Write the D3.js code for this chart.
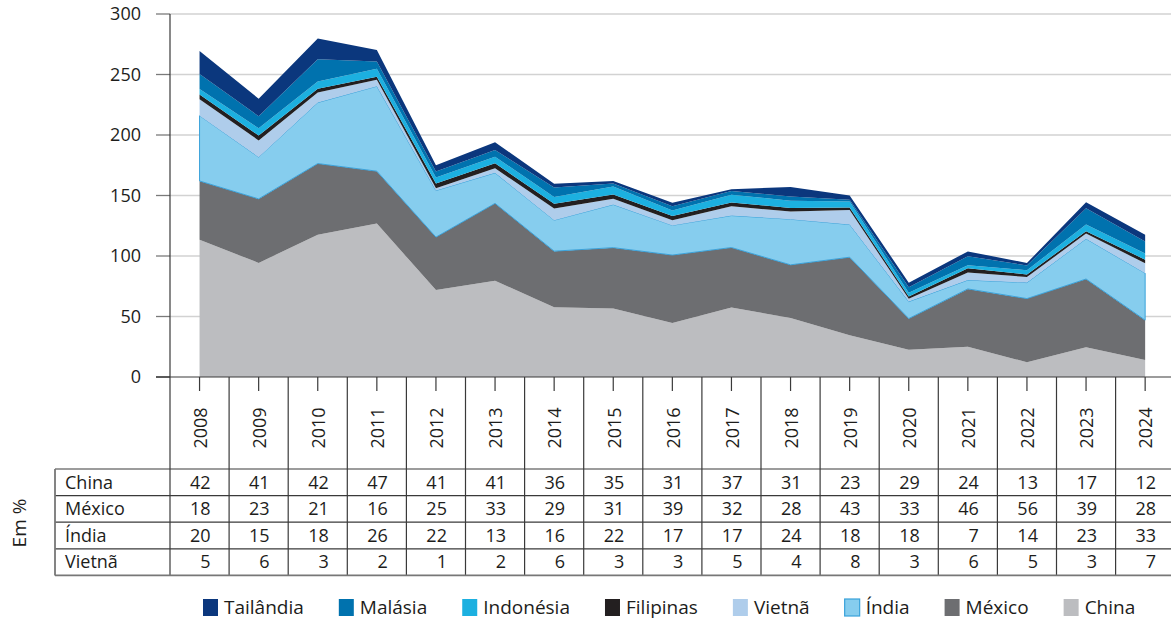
<!DOCTYPE html>
<html><head><meta charset="utf-8">
<script src="https://cdn.jsdelivr.net/npm/d3@7/dist/d3.min.js"></script>
<style>
body{margin:0;background:#fff}
svg{display:block}
text{font-family:"Open Sans","Noto Sans",sans-serif;fill:#1d1d1b}
</style>
</head><body>
<svg id="chart" width="1171" height="620"></svg>
<script>
// ---- data ----
const years = [2008,2009,2010,2011,2012,2013,2014,2015,2016,2017,2018,2019,2020,2021,2022,2023,2024];
const china     = [113.4, 94.3,117.6,126.9, 71.8, 79.5, 57.6, 56.7, 44.6, 57.4, 48.7, 34.5, 22.6, 25.0, 12.2, 24.6, 14.1];
const mexico    = [ 48.6, 52.9, 58.8, 43.2, 43.8, 64.0, 46.4, 50.2, 56.2, 49.6, 44.0, 64.5, 25.7, 47.8, 52.6, 56.4, 32.9];
const india     = [ 54.0, 34.5, 50.4, 70.2, 38.5, 25.2, 25.6, 35.6, 24.5, 26.4, 37.7, 27.0, 14.0,  7.3, 13.2, 33.2, 38.8];
const vietna    = [ 13.5, 13.8,  8.4,  5.4,  1.8,  3.9,  9.6,  4.9,  4.3,  7.8,  6.3, 12.0,  2.3,  6.2,  4.7,  4.3,  8.2];
const filipinas = [  4.0,  4.0,  3.0,  2.5,  4.0,  4.0,  4.0,  3.5,  3.5,  3.0,  3.0,  2.0,  2.0,  3.5,  2.0,  2.0,  3.0];
const indonesia = [  4.5,  6.0,  6.0,  6.5,  5.0,  5.5,  5.5,  6.5,  4.5,  6.5,  6.0,  5.0,  3.0,  2.5,  3.5,  5.5,  5.0];
const malasia   = [ 12.4, 10.0, 18.5,  6.0,  5.0,  5.5,  8.0,  2.5,  3.5,  3.0,  3.5,  1.5,  4.5,  7.5,  4.0, 13.5, 10.0];
const tailandia = [ 19.0, 14.5, 17.0,  9.5,  5.0,  6.5,  3.0,  2.0,  3.0,  1.5,  7.8,  3.5,  3.8,  4.0,  2.0,  5.0,  5.6];

const seriesNames = ["China","México","Índia","Vietnã","Filipinas","Indonésia","Malásia","Tailândia"];
const seriesValues = [china, mexico, india, vietna, filipinas, indonesia, malasia, tailandia];
const seriesColors = ["#bcbdc0","#6d6e71","#86cdee","#afcdeb","#231f20","#1cb0e0","#0072ae","#0b377d"];
const legendOrder = ["Tailândia","Malásia","Indonésia","Filipinas","Vietnã","Índia","México","China"];

const yTicks = [0,50,100,150,200,250,300];

const tableLabels = ["China","México","Índia","Vietnã"];
const pctChina  = [42,41,42,47,41,41,36,35,31,37,31,23,29,24,13,17,12];
const pctMexico = [18,23,21,16,25,33,29,31,39,32,28,43,33,46,56,39,28];
const pctIndia  = [20,15,18,26,22,13,16,22,17,17,24,18,18, 7,14,23,33];
const pctVietna = [ 5, 6, 3, 2, 1, 2, 6, 3, 3, 5, 4, 8, 3, 6, 5, 3, 7];
const tableValues = [pctChina, pctMexico, pctIndia, pctVietna];
const unitLabel = "Em %";

// ---- layout ----
const svg = d3.select("#chart");
const W = 1171;
const axisX = 170, colW = 59.1;
const yTop = 14, yBase = 377;
const headerBottom = 469, rowH = 26.6;
const tableLeft = 55;
const fs = 18;

const x = d3.scaleBand().domain(years).range([axisX, axisX + colW*years.length]).padding(0);
const cx = d => x(d) + x.bandwidth()/2;
const y = d3.scaleLinear().domain([0,300]).range([yBase, yTop]);

const rows = years.map((yr,i) => {
  const o = {year: yr};
  seriesNames.forEach((s,k) => o[s] = seriesValues[k][i]);
  return o;
});
const stacked = d3.stack().keys(seriesNames)(rows);
const color = d3.scaleOrdinal().domain(seriesNames).range(seriesColors);

// gridlines
const grid = svg.append("g");
yTicks.filter(t => t > 0).forEach(t => {
  grid.append("line").attr("x1", axisX).attr("x2", W).attr("y1", y(t)).attr("y2", y(t))
    .attr("stroke", "#d2d2d2").attr("stroke-width", 1.4);
});

// areas
const area = d3.area()
  .x(d => cx(d.data.year))
  .y0(d => y(d[0]))
  .y1(d => y(d[1]))
  .curve(d3.curveLinear);

svg.append("g").selectAll("path").data(stacked).join("path")
  .attr("d", area)
  .attr("fill", d => color(d.key))
  .attr("stroke", d => d.key === "Índia" ? "#3aa2da" : "none")
  .attr("stroke-width", d => d.key === "Índia" ? 1 : 0)
  .attr("stroke-linejoin", "round");

// y axis ticks + labels
const yAx = svg.append("g");
yTicks.forEach(t => {
  yAx.append("line").attr("x1", axisX - 14).attr("x2", axisX).attr("y1", y(t)).attr("y2", y(t))
    .attr("stroke", t === 0 ? "#333" : "#7a7a7a").attr("stroke-width", 1.3);
  yAx.append("text").attr("x", 141).attr("y", y(t)).attr("dy", "0.35em")
    .attr("text-anchor", "end").attr("font-size", fs).text(t);
});

// table / axis lines
const tableBottom = headerBottom + rowH*tableLabels.length;
const lines = svg.append("g").attr("stroke", "#3a3a3a").attr("stroke-width", 1.2);
lines.append("line").attr("x1", axisX - 14).attr("x2", W).attr("y1", yBase).attr("y2", yBase);
years.forEach(yr => {
  lines.append("line").attr("x1", x(yr)).attr("x2", x(yr)).attr("y1", yr === years[0] ? yTop : yBase).attr("y2", tableBottom);
});
years.forEach(yr => {
  lines.append("line").attr("x1", cx(yr)).attr("x2", cx(yr)).attr("y1", yBase).attr("y2", yBase + 14);
});
for (let r = 0; r <= tableLabels.length; r++) {
  lines.append("line").attr("x1", tableLeft).attr("x2", W)
    .attr("y1", headerBottom + r*rowH).attr("y2", headerBottom + r*rowH)
    .attr("stroke", r === tableLabels.length ? "#777" : "#3a3a3a")
    .attr("stroke-width", r === tableLabels.length ? 1.8 : 1.2);
}
lines.append("line").attr("x1", tableLeft).attr("x2", tableLeft).attr("y1", headerBottom).attr("y2", tableBottom)
  .attr("stroke", "#777").attr("stroke-width", 1.8);

// year labels
years.forEach(yr => {
  svg.append("text").attr("transform", `translate(${cx(yr)+1},${428}) rotate(-90)`)
    .attr("text-anchor", "middle").attr("dy", "0.35em").attr("font-size", fs).text(yr);
});

// table text
tableLabels.forEach((lab, r) => {
  const yc = headerBottom + rowH*r + rowH/2;
  svg.append("text").attr("x", 65).attr("y", yc).attr("dy", "0.35em").attr("font-size", fs).text(lab);
  years.forEach((yr, i) => {
    svg.append("text").attr("x", cx(yr) + 11).attr("y", yc).attr("dy", "0.35em")
      .attr("text-anchor", "end").attr("font-size", fs).text(tableValues[r][i]);
  });
});

// unit label
svg.append("text").attr("transform", `translate(19,523) rotate(-90)`)
  .attr("text-anchor", "middle").attr("dy", "0.35em").attr("font-size", 19).text(unitLabel);

// legend
const leg = svg.append("g");
let lx = 203;
legendOrder.forEach(name => {
  const g = leg.append("g").attr("transform", `translate(${lx},599)`);
  g.append("rect").attr("x", 0).attr("y", 0).attr("width", 15).attr("height", 17)
    .attr("fill", color(name))
    .attr("stroke", name === "Índia" ? "#3aa2da" : "none").attr("stroke-width", 1.2);
  const t = g.append("text").attr("x", 21).attr("y", 8.5).attr("dy", "0.35em").attr("font-size", 19).text(name);
  lx += 21 + t.node().getComputedTextLength() + 35;
});
</script>
</body></html>
